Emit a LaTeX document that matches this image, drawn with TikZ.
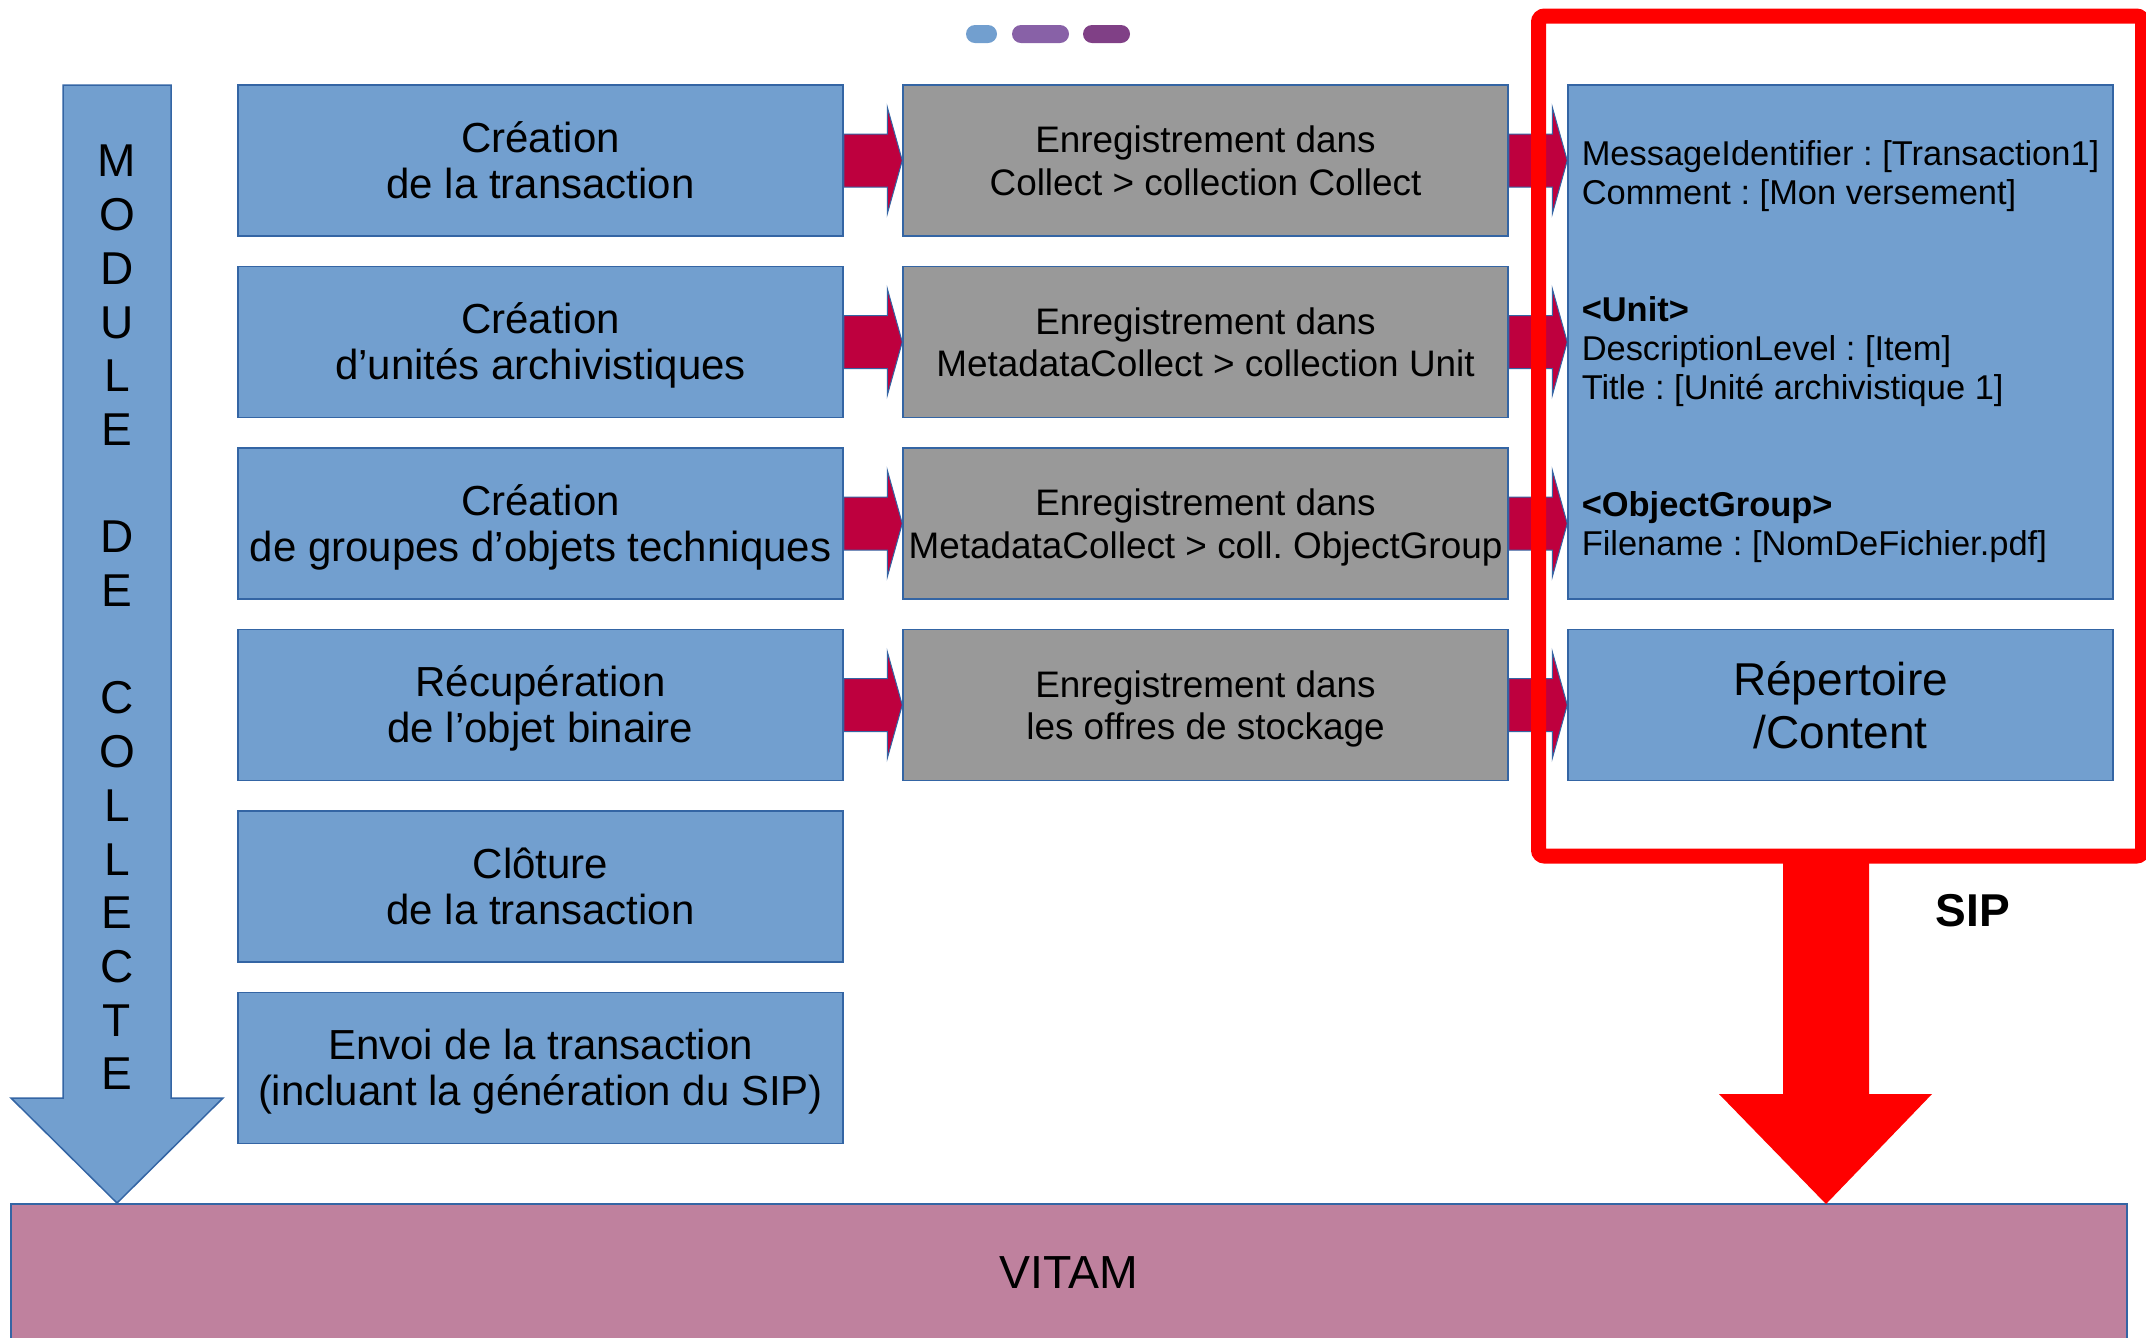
\documentclass[tikz,border=0pt]{standalone}
\usepackage{fontspec}
\setmainfont{Liberation Sans}
\frenchspacing
\usetikzlibrary{calc}
\definecolor{boxblue}{RGB}{114,159,207}
\definecolor{boxline}{RGB}{52,101,164}
\definecolor{boxgray}{RGB}{153,153,153}
\definecolor{flowred}{RGB}{190,0,62}
\definecolor{vitamrose}{RGB}{191,129,158}
\definecolor{pillpurple}{RGB}{136,97,167}
\definecolor{pilldark}{RGB}{128,64,134}
\tikzset{
  haut/.store in=\haut,bas/.store in=\bas,haut=13.4pt,bas=5pt,
  etape/.style={draw=boxline,line width=0.15mm,fill=boxblue,minimum width=60.5mm,minimum height=15.1mm,inner sep=0pt,align=center,font=\fontsize{11.95}{13.1}\selectfont,
    execute at end node={\rule[-\bas]{0pt}{0pt}}},
  stockage/.style={etape,fill=boxgray,font=\fontsize{10.5}{12.1}\selectfont,haut=12pt,bas=4.26pt},
  fiche/.style={etape,minimum width=54.5mm},
  flux/.style={fill=flowred,draw=boxline,line width=0.1mm},
}
\newcommand{\hautligne}{\rule{0pt}{\haut}}
\newcommand{\fleche}[2]{%
  \draw[flux] ($#1+(0,26.5)$) -- ($#2+(-15,26.5)$) -- ($#2+(-15,53.5)$) -- #2 -- ($#2+(-15,-53.5)$) -- ($#2+(-15,-26.5)$) -- ($#1+(0,-26.5)$) -- cycle;}
\begin{document}
\begin{tikzpicture}[x=0.1mm,y=-0.1mm]
                \useasboundingbox (0,0) rectangle (2146,1337);
                \fill[boxblue,rounded corners=0.9mm](966,25) rectangle (997,43);
                \fill[pillpurple,rounded corners=0.9mm](1012,25) rectangle (1069,43);
                \fill[pilldark,rounded corners=0.9mm](1083,25) rectangle (1130,43);
                \draw[boxline,line width=0.15mm,fill=boxblue](63,85)--(171,85)--(171,1098)--(223,1098)--(117,1203)--(11,1098)--(63,1098)--cycle;
                \node[font=\fontsize{13.1}{15.28}\selectfont,align=center] (module) at (117,617.5) {M\\O\\D\\U\\L\\E\\[\baselineskip]D\\E\\[\baselineskip]C\\O\\L\\L\\E\\C\\T\\E};
                \node[etape] (c1) at (540.5,160.5) {\hautligne Création\\de la transaction};
                \node[etape] (c2) at (540.5,342) {\hautligne Création\\d’unités archivistiques};
                \node[etape] (c3) at (540.5,523.5) {\hautligne Création\\de groupes d’objets techniques};
                \node[etape] (c4) at (540.5,705) {\hautligne Récupération\\de l’objet binaire};
                \node[etape] (c5) at (540.5,886.5) {\hautligne Clôture\\de la transaction};
                \node[etape] (c6) at (540.5,1068) {\hautligne Envoi de la transaction\\(incluant la génération du SIP)};
                \node[stockage] (e1) at (1205.5,160.5) {\hautligne Enregistrement dans\\Collect > collection Collect};
                \node[stockage] (e2) at (1205.5,342) {\hautligne Enregistrement dans\\MetadataCollect > collection Unit};
                \node[stockage] (e3) at (1205.5,523.5) {\hautligne Enregistrement dans\\MetadataCollect > coll. ObjectGroup};
                \node[stockage] (e4) at (1205.5,705) {\hautligne Enregistrement dans\\les offres de stockage};
                \node[fiche,minimum height=51.4mm,align=left,font=\fontsize{9.8}{11.1}\selectfont,haut=12.5pt,bas=2.06pt] (meta) at (1840.5,342) {\hautligne MessageIdentifier : [Transaction1]\\Comment : [Mon versement]\\[2\baselineskip]\textbf{<Unit>}\\DescriptionLevel : [Item]\\Title : [Unité archivistique 1]\\[2\baselineskip]\textbf{<ObjectGroup>}\\Filename : [NomDeFichier.pdf]};
                \node[fiche,font=\fontsize{13.1}{15.1}\selectfont,haut=15pt,bas=5.33pt] (content) at (1840.5,705) {\hautligne Répertoire\\/Content};
                \foreach \i in {1,...,4} {\fleche{(c\i.east)}{(e\i.west)}}
                \foreach \i in {1,2,3} {\coordinate (m\i) at (e\i.east -| meta.west); \fleche{(e\i.east)}{(m\i)}}
                \fleche{(e4.east)}{(content.west)}
                \node[draw=boxline,line width=0.15mm,fill=vitamrose,minimum width=211.6mm,minimum height=13.8mm,inner sep=0pt,font=\fontsize{13.2}{15}\selectfont] (vitam) at (1069,1273) {VITAM};
                \fill[red](1783,856)--(1783,1094)--(1719,1094)--(1826,1204)--(1932,1094)--(1869,1094)--(1869,856)--cycle;
                \draw[red,line width=1.5mm,rounded corners=0.6mm](1538.5,16) rectangle (2142.5,856);
                \node[font=\bfseries\fontsize{13.1}{15}\selectfont] (sip) at (1973,911) {SIP};
\end{tikzpicture}
\end{document}
